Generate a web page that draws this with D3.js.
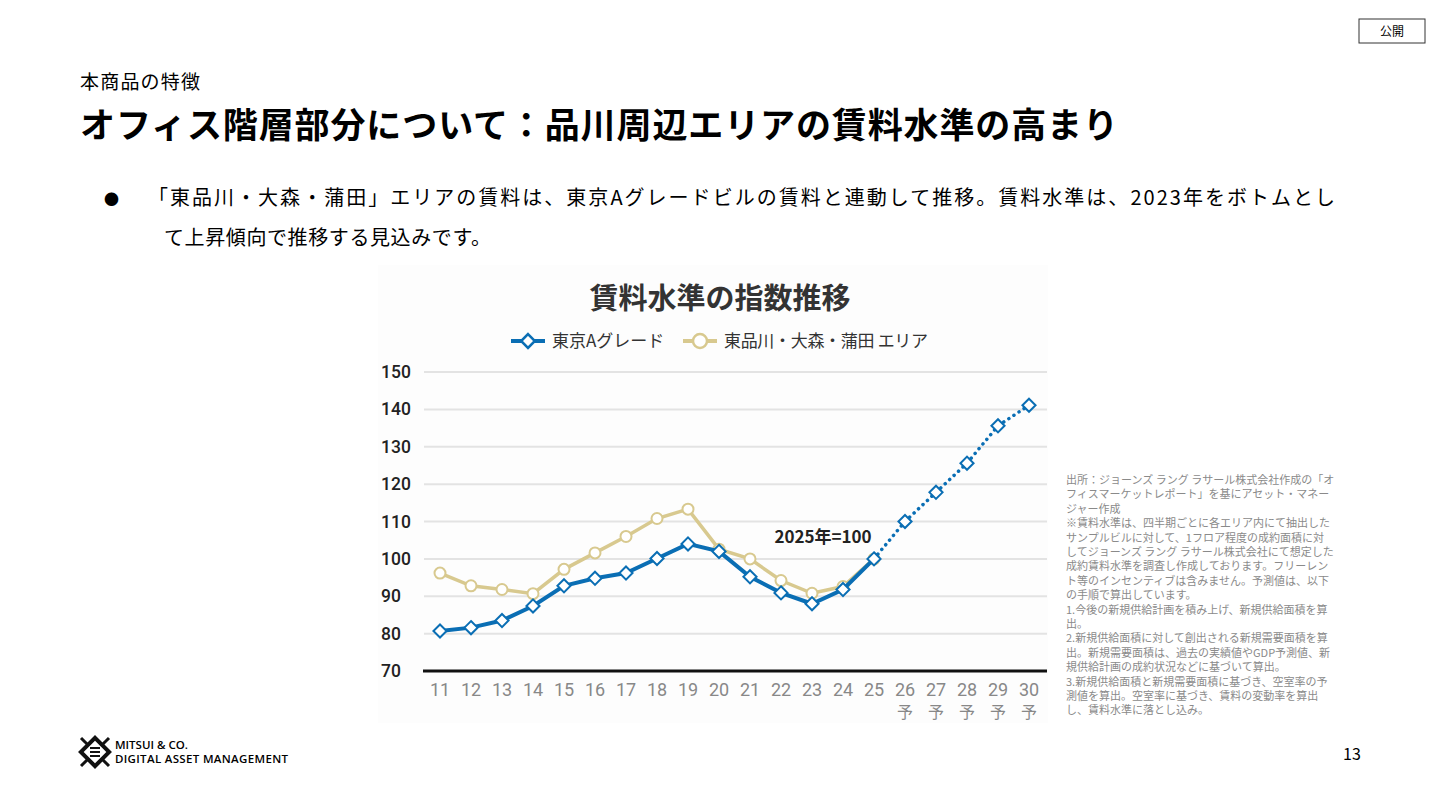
<!DOCTYPE html>
<html><head><meta charset="utf-8">
<script src="https://cdn.jsdelivr.net/npm/d3@7"></script>
<style>
body{margin:0;background:#fff;font-family:"Noto Sans CJK JP","Noto Sans",sans-serif;}
</style></head>
<body><svg id="c" width="1440" height="810"></svg>
<script>
const years = ["11","12","13","14","15","16","17","18","19","20","21","22","23","24","25","26","27","28","29","30"];
const forecast = [false,false,false,false,false,false,false,false,false,false,false,false,false,false,false,true,true,true,true,true];
const tokyoA = [80.7,81.6,83.5,87.4,92.8,94.8,96.2,100.1,104,102,95.2,90.9,88,91.8,100,110,117.8,125.6,135.6,141.1];
const shinagawa = [96.2,92.8,91.8,90.7,97.2,101.6,106,110.8,113.3,102.6,100,94.2,90.8,92.6,100];
const yTicks = [70,80,90,100,110,120,130,140,150];
const notes = [
 "出所：ジョーンズ ラング ラサール株式会社作成の「オ","フィスマーケットレポート」を基にアセット・マネー","ジャー作成",
 "※賃料水準は、四半期ごとに各エリア内にて抽出した","サンプルビルに対して、1フロア程度の成約面積に対","してジョーンズ ラング ラサール株式会社にて想定した",
 "成約賃料水準を調査し作成しております。フリーレン","ト等のインセンティブは含みません。予測値は、以下","の手順で算出しています。",
 "1.今後の新規供給計画を積み上げ、新規供給面積を算","出。","2.新規供給面積に対して創出される新規需要面積を算",
 "出。新規需要面積は、過去の実績値やGDP予測値、新","規供給計画の成約状況などに基づいて算出。",
 "3.新規供給面積と新規需要面積に基づき、空室率の予","測値を算出。空室率に基づき、賃料の変動率を算出","し、賃料水準に落とし込み。"];

const svg = d3.select("#c");
const blue = "#0a6eb4", gold = "#d8c98f";

// header
svg.append("rect").attr("x",1359).attr("y",19).attr("width",66).attr("height",24).attr("fill","none").attr("stroke","#333");
svg.append("text").attr("x",1392).attr("y",36).attr("text-anchor","middle").attr("font-size",12).text("公開");
svg.append("text").attr("x",80).attr("y",89).attr("font-size",19).attr("textLength",120).text("本商品の特徴");
svg.append("text").attr("x",80).attr("y",138).attr("font-size",35).attr("font-weight",700).attr("textLength",1038).text("オフィス階層部分について：品川周辺エリアの賃料水準の高まり");
svg.append("text").attr("x",104).attr("y",205).attr("font-size",15).text("●");
svg.append("text").attr("x",148).attr("y",205).attr("font-size",20).attr("textLength",1187).attr("lengthAdjust","spacing").text("「東品川・大森・蒲田」エリアの賃料は、東京Aグレードビルの賃料と連動して推移。賃料水準は、2023年をボトムとし");
svg.append("text").attr("x",164).attr("y",245).attr("font-size",20).attr("textLength",327).attr("lengthAdjust","spacing").text("て上昇傾向で推移する見込みです。");
svg.append("text").attr("x",1352).attr("y",760).attr("text-anchor","middle").attr("font-size",16).text("13");

// logo
const lg = svg.append("g").attr("transform","translate(95,752)");
lg.append("rect").attr("x",-10).attr("y",-10).attr("width",20).attr("height",20).attr("transform","rotate(45)").attr("fill","none").attr("stroke","#111").attr("stroke-width",4);
[-4,0,4].forEach(d=>lg.append("line").attr("x1",-5).attr("x2",5).attr("y1",d).attr("y2",d).attr("stroke","#111").attr("stroke-width",2));
[[-14,-14],[14,-14],[-14,14],[14,14]].forEach(([a,b])=>lg.append("line").attr("x1",a*0.55).attr("y1",b*0.55).attr("x2",a).attr("y2",b).attr("stroke","#111").attr("stroke-width",3));
svg.append("text").attr("x",115).attr("y",749).attr("font-size",11.5).attr("font-weight",600).attr("font-family","Open Sans, sans-serif").text("MITSUI & CO.");
svg.append("text").attr("x",115).attr("y",763).attr("font-size",11.5).attr("font-weight",600).attr("font-family","Open Sans, sans-serif").attr("textLength",173).text("DIGITAL ASSET MANAGEMENT");

// chart
svg.append("rect").attr("x",378).attr("y",265).attr("width",670).attr("height",458).attr("fill","#fdfdfd");
svg.append("text").attr("x",720).attr("y",309).attr("text-anchor","middle").attr("font-size",29).attr("font-weight",700).attr("fill","#333").text("賃料水準の指数推移");

// legend
const leg = svg.append("g").attr("font-size",17).attr("fill","#333");
leg.append("line").attr("x1",511).attr("x2",545).attr("y1",341).attr("y2",341).attr("stroke",blue).attr("stroke-width",4);
leg.append("path").attr("d",d3.symbol(d3.symbolDiamond2,120)()).attr("transform","translate(528,341)").attr("fill","#fff").attr("stroke",blue).attr("stroke-width",2.5);
leg.append("text").attr("x",552).attr("y",347).text("東京Aグレード");
leg.append("line").attr("x1",683).attr("x2",717).attr("y1",341).attr("y2",341).attr("stroke",gold).attr("stroke-width",4);
leg.append("circle").attr("cx",700).attr("cy",341).attr("r",7).attr("fill","#fff").attr("stroke",gold).attr("stroke-width",2.5);
leg.append("text").attr("x",724).attr("y",347).attr("textLength",204).text("東品川・大森・蒲田 エリア");

const x = d3.scalePoint().domain(years).range([440,1029]);
const y = d3.scaleLinear().domain([70,150]).range([671,372]);

svg.append("g").selectAll("line").data(yTicks.slice(1)).join("line")
  .attr("x1",424).attr("x2",1047).attr("y1",d=>y(d)).attr("y2",d=>y(d)).attr("stroke","#e3e3e3").attr("stroke-width",2);
svg.append("line").attr("x1",423).attr("x2",1047).attr("y1",y(70)).attr("y2",y(70)).attr("stroke","#111").attr("stroke-width",3);
svg.append("g").selectAll("text").data(yTicks).join("text")
  .attr("x",381).attr("y",d=>y(d)+6).attr("font-size",17.5).attr("font-weight",500).attr("fill","#222").attr("font-family","Roboto, sans-serif").text(d=>d);
const xl = svg.append("g").attr("font-size",18).attr("fill","#888").attr("text-anchor","middle").attr("font-family","Roboto, sans-serif");
xl.selectAll("text.y").data(years).join("text").attr("x",d=>x(d)).attr("y",696).text(d=>d);
xl.selectAll("text.f").data(years.filter((d,i)=>forecast[i])).join("text").attr("x",d=>x(d)).attr("y",718).attr("font-family","Noto Sans CJK JP").attr("font-size",16).text("予");

const line = d3.line().x(d=>x(d[0])).y(d=>y(d[1]));
const gPts = shinagawa.map((v,i)=>[years[i],v]);
svg.append("path").attr("d",line(gPts)).attr("fill","none").attr("stroke",gold).attr("stroke-width",3.5);
svg.append("g").selectAll("circle").data(gPts).join("circle").attr("cx",d=>x(d[0])).attr("cy",d=>y(d[1])).attr("r",5.5).attr("fill","#fff").attr("stroke",gold).attr("stroke-width",2);

const bPts = tokyoA.map((v,i)=>[years[i],v]);
const lastA = forecast.indexOf(true) - 1;
svg.append("path").attr("d",line(bPts.slice(0,lastA+1))).attr("fill","none").attr("stroke",blue).attr("stroke-width",4);
svg.append("path").attr("d",line(bPts.slice(lastA))).attr("fill","none").attr("stroke",blue).attr("stroke-width",3.5).attr("stroke-dasharray","0.1 6").attr("stroke-linecap","round");
svg.append("g").selectAll("path").data(bPts).join("path").attr("d",d3.symbol(d3.symbolDiamond2,110)())
  .attr("transform",d=>`translate(${x(d[0])},${y(d[1])})`).attr("fill","#fff").attr("stroke",blue).attr("stroke-width",2);

svg.append("text").attr("x",823).attr("y",543).attr("text-anchor","middle").attr("font-size",17).attr("font-weight",700).attr("fill","#222").text("2025年=100");

svg.append("g").selectAll("text").data(notes).join("text").attr("x",1066).attr("y",(d,i)=>484+i*14.4)
  .attr("font-size",11).attr("fill","#8a8a8a").text(d=>d);
</script></body></html>
